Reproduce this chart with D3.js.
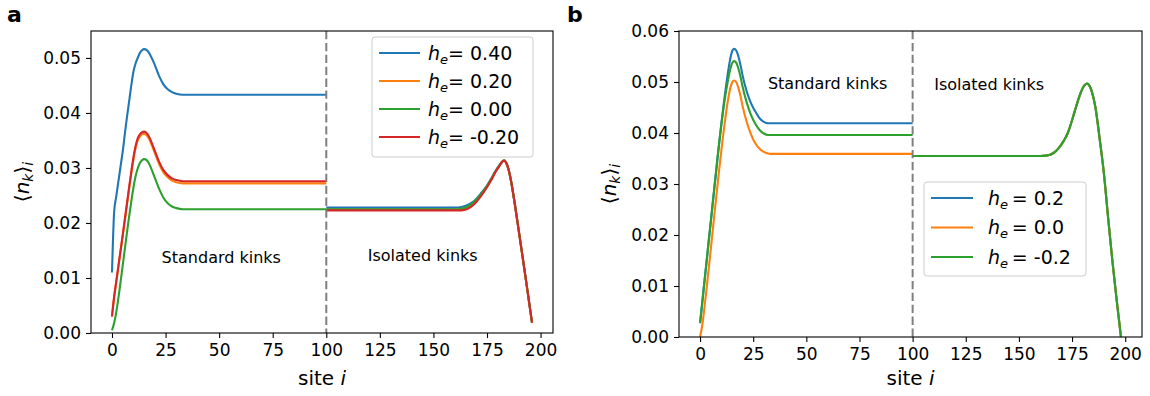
<!DOCTYPE html>
<html><head><meta charset="utf-8">
<script src="https://cdn.jsdelivr.net/npm/d3@7"></script>
<style>body{margin:0;background:#fff} text{font-family:"DejaVu Sans",sans-serif;fill:#000}</style>
</head><body><svg id="c" width="1150" height="396"></svg>
<script>
// ---------- tick labels / legend labels ----------
const xTicks = [0, 25, 50, 75, 100, 125, 150, 175, 200];
const yTicksA = [0, 0.01, 0.02, 0.03, 0.04, 0.05];
const yTicksB = [0, 0.01, 0.02, 0.03, 0.04, 0.05, 0.06];
const legendA = ["0.40", "0.20", "0.00", "-0.20"];
const legendB = ["0.2", "0.0", "-0.2"];
const colorsA = ["#1f77b4", "#ff7f0e", "#2ca02c", "#d62728"];
const colorsB = ["#1f77b4", "#ff7f0e", "#2ca02c"];

// ---------- panel a : sites ----------
const sitesA_std = [0,1,2,3,4,5,6,7,8,9,10,11,12,13,14,15,16,17,18,19,20,22,24,26,28,30,33,40,60,80,100];
const sitesA_iso = [100,120,140,160,163,166,169,172,175,177,179,181,182,183,184,185,186,188,190,192,194,196];

// panel a, standard kinks (sites 0..100)
const a_p040_std = [0.0110,0.0220,0.0249,0.0276,0.0303,0.0330,0.0362,0.0393,0.0421,0.0450,0.0475,0.0490,0.0500,0.0509,0.0514,0.0516,0.0515,0.0511,0.0504,0.0496,0.0487,0.0467,0.0452,0.0443,0.0438,0.0435,0.0433,0.0433,0.0433,0.0433,0.0433];
const a_p020_std = [0.0030,0.0065,0.0093,0.0121,0.0149,0.0177,0.0205,0.0234,0.0262,0.0290,0.0315,0.0336,0.0350,0.0357,0.0361,0.0362,0.0360,0.0355,0.0347,0.0337,0.0327,0.0307,0.0292,0.0283,0.0277,0.0274,0.0272,0.0272,0.0272,0.0272,0.0272];
const a_p000_std = [0.0005,0.0018,0.0038,0.0064,0.0093,0.0123,0.0153,0.0183,0.0212,0.0239,0.0264,0.0285,0.0299,0.0309,0.0314,0.0316,0.0315,0.0310,0.0302,0.0292,0.0282,0.0262,0.0246,0.0236,0.0230,0.0227,0.0225,0.0225,0.0225,0.0225,0.0225];
const a_m020_std = [0.0030,0.0066,0.0094,0.0122,0.0150,0.0178,0.0207,0.0236,0.0265,0.0293,0.0319,0.0340,0.0354,0.0361,0.0365,0.0366,0.0364,0.0359,0.0351,0.0341,0.0331,0.0311,0.0296,0.0287,0.0281,0.0278,0.0276,0.0276,0.0276,0.0276,0.0276];

// panel a, isolated kinks (sites 100..196)
const a_p040_iso = [0.0228,0.0228,0.0228,0.0228,0.0229,0.0233,0.0240,0.0253,0.0268,0.0281,0.0295,0.0306,0.0311,0.0314,0.0309,0.0298,0.0281,0.0234,0.0181,0.0128,0.0074,0.0019];
const a_p020_iso = [0.0224,0.0224,0.0224,0.0224,0.0225,0.0229,0.0237,0.0250,0.0266,0.0279,0.0293,0.0305,0.0311,0.0314,0.0309,0.0298,0.0281,0.0234,0.0181,0.0128,0.0074,0.0019];
const a_p000_iso = [0.0225,0.0225,0.0225,0.0225,0.0226,0.0230,0.0238,0.0251,0.0267,0.0280,0.0294,0.0306,0.0311,0.0314,0.0309,0.0298,0.0281,0.0234,0.0181,0.0128,0.0074,0.0019];
const a_m020_iso = [0.0223,0.0223,0.0223,0.0223,0.0223,0.0226,0.0234,0.0248,0.0265,0.0278,0.0293,0.0305,0.0311,0.0313,0.0309,0.0298,0.0281,0.0234,0.0181,0.0128,0.0074,0.0019];

// ---------- panel b : sites ----------
const sitesB_std = [0,1,2,3,4,5,6,7,8,9,10,11,12,13,14,15,16,17,18,19,20,22,24,26,28,30,32,34,40,60,80,100];
const sitesB_iso = [100,120,140,160,163,165,167,169,171,173,175,177,179,180,181,182,183,184,185,186,188,190,192,194,196,198];

const b_p02_std = [0.0027,0.0066,0.0106,0.0145,0.0185,0.0224,0.0264,0.0303,0.0342,0.0380,0.0417,0.0452,0.0485,0.0515,0.0541,0.0559,0.0565,0.0562,0.0551,0.0534,0.0513,0.0481,0.0458,0.0442,0.0429,0.0422,0.0419,0.0419,0.0419,0.0419,0.0419,0.0419];
const b_p00_std = [0.0000,0.0022,0.0055,0.0092,0.0131,0.0170,0.0210,0.0250,0.0289,0.0328,0.0365,0.0400,0.0432,0.0461,0.0484,0.0498,0.0503,0.0500,0.0489,0.0473,0.0453,0.0421,0.0397,0.0380,0.0369,0.0363,0.0360,0.0359,0.0359,0.0359,0.0359,0.0359];
const b_m02_std = [0.0027,0.0066,0.0106,0.0145,0.0185,0.0224,0.0264,0.0303,0.0343,0.0381,0.0416,0.0448,0.0476,0.0500,0.0521,0.0536,0.0541,0.0538,0.0527,0.0511,0.0491,0.0459,0.0435,0.0418,0.0406,0.0399,0.0396,0.0396,0.0396,0.0396,0.0396,0.0396];

const b_p02_iso = [0.0355,0.0355,0.0355,0.0355,0.0356,0.0358,0.0363,0.0372,0.0384,0.0400,0.0425,0.0453,0.0478,0.0488,0.0494,0.0497,0.0494,0.0485,0.0470,0.0450,0.0388,0.0320,0.0232,0.0148,0.0072,0.0000];
const b_p00_iso = [0.0355,0.0355,0.0355,0.0355,0.0356,0.0358,0.0363,0.0372,0.0384,0.0400,0.0425,0.0453,0.0478,0.0488,0.0494,0.0497,0.0494,0.0485,0.0470,0.0450,0.0388,0.0320,0.0232,0.0148,0.0072,0.0000];
const b_m02_iso = [0.0355,0.0355,0.0355,0.0355,0.0356,0.0358,0.0363,0.0372,0.0384,0.0400,0.0425,0.0453,0.0478,0.0488,0.0494,0.0497,0.0494,0.0485,0.0470,0.0450,0.0388,0.0320,0.0232,0.0148,0.0072,0.0000];

// ---------- drawing ----------
const svg = d3.select("#c");

function drawPanel(cfg) {
  const x = d3.scaleLinear().domain(cfg.xDomain).range([cfg.left, cfg.right]);
  const y = d3.scaleLinear().domain(cfg.yDomain).range([cfg.bottom, cfg.top]);
  const g = svg.append("g");

  const line = d3.line().x(d => x(d[0])).y(d => y(d[1])).curve(d3.curveMonotoneX);
  cfg.series.forEach((s, i) => {
    [[cfg.sitesStd, s.std], [cfg.sitesIso, s.iso]].forEach(([st, vs]) => {
      g.append("path").datum(d3.zip(st, vs))
        .attr("d", line).attr("fill", "none")
        .attr("stroke", cfg.colors[i]).attr("stroke-width", 2.1)
        .attr("stroke-linejoin", "round").attr("stroke-linecap", "butt");
    });
  });

  // dashed separator at site 100
  g.append("line").attr("x1", x(100)).attr("x2", x(100))
    .attr("y1", cfg.top).attr("y2", cfg.bottom)
    .attr("stroke", "#7f7f7f").attr("stroke-width", 2).attr("stroke-dasharray", "8.3,3.6");

  // axes
  const xa = g.append("g").attr("transform", `translate(0,${cfg.bottom})`)
    .call(d3.axisBottom(x).tickValues(xTicks).tickFormat(d3.format("d")).tickSize(5).tickSizeOuter(0).tickPadding(6));
  const ya = g.append("g").attr("transform", `translate(${cfg.left},0)`)
    .call(d3.axisLeft(y).tickValues(cfg.yTicks).tickFormat(d3.format(".2f")).tickSize(5).tickSizeOuter(0).tickPadding(5));
  [xa, ya].forEach(a => {
    a.select(".domain").remove();
    a.selectAll("text").attr("font-family", "DejaVu Sans").attr("font-size", 17).attr("fill", "#000");
    a.selectAll("line").attr("stroke", "#000").attr("stroke-width", 1.1);
  });
  g.append("rect").attr("x", cfg.left).attr("y", cfg.top)
    .attr("width", cfg.right - cfg.left).attr("height", cfg.bottom - cfg.top)
    .attr("fill", "none").attr("stroke", "#000").attr("stroke-width", 1.1);

  // annotations
  cfg.notes.forEach(n => {
    g.append("text").attr("x", x(n.site)).attr("y", y(n.val))
      .attr("text-anchor", "middle").attr("font-size", 16).text(n.text);
  });

  // axis labels
  const xl = g.append("text").attr("x", (cfg.left + cfg.right) / 2).attr("y", 385)
    .attr("text-anchor", "middle").attr("font-size", 20);
  xl.append("tspan").text("site ");
  xl.append("tspan").attr("font-style", "italic").text("i");

  const yl = g.append("text").attr("transform", `translate(${cfg.ylabX},${(cfg.top + cfg.bottom) / 2}) rotate(-90)`)
    .attr("text-anchor", "middle").attr("font-size", 20);
  yl.append("tspan").text("\u27E8");
  yl.append("tspan").attr("font-style", "italic").text("n");
  yl.append("tspan").attr("font-style", "italic").attr("font-size", 14).attr("dy", 4).text("k");
  yl.append("tspan").attr("dy", -4).text("\u27E9");
  yl.append("tspan").attr("font-style", "italic").attr("font-size", 14).attr("dy", 4).text("i");

  // panel letter
  svg.append("text").attr("x", cfg.letterX).attr("y", 22).attr("font-size", 22)
    .attr("font-weight", "bold").text(cfg.letter);

  // legend
  const L = cfg.legend;
  g.append("rect").attr("x", L.x).attr("y", L.y).attr("width", L.w).attr("height", L.h)
    .attr("rx", 3).attr("fill", "#fff").attr("fill-opacity", 0.8)
    .attr("stroke", "#cccccc").attr("stroke-width", 1);
  cfg.legendLabels.forEach((lab, i) => {
    const cy = L.row0 + i * L.step;
    g.append("line").attr("x1", L.lx1).attr("x2", L.lx2).attr("y1", cy).attr("y2", cy)
      .attr("stroke", cfg.colors[i]).attr("stroke-width", 2.1);
    const t = g.append("text").attr("x", L.tx).attr("y", cy + 6.5).attr("font-size", 19);
    t.append("tspan").attr("font-style", "italic").text("h");
    t.append("tspan").attr("font-style", "italic").attr("font-size", 13).attr("dy", 4).text("e");
    t.append("tspan").attr("dy", -4).text(L.spaced ? "\u2009= " + lab : "= " + lab);
  });
}

drawPanel({
  left: 91, right: 553, top: 31, bottom: 333,
  xDomain: [-9.8, 205.8], yDomain: [0, 0.0549], yTicks: yTicksA,
  sitesStd: sitesA_std, sitesIso: sitesA_iso, colors: colorsA,
  series: [
    {std: a_p040_std, iso: a_p040_iso},
    {std: a_p020_std, iso: a_p020_iso},
    {std: a_p000_std, iso: a_p000_iso},
    {std: a_m020_std, iso: a_m020_iso}
  ],
  notes: [{site: 51, val: 0.0127, text: "Standard kinks"}, {site: 145, val: 0.0130, text: "Isolated kinks"}],
  ylabX: 29, letter: "a", letterX: 7,
  legendLabels: legendA,
  legend: {x: 372, y: 37, w: 161, h: 120, row0: 53, step: 28, lx1: 379, lx2: 420, tx: 428, spaced: false}
});

drawPanel({
  left: 679, right: 1142, top: 31, bottom: 337,
  xDomain: [-9.9, 207.9], yDomain: [0, 0.06], yTicks: yTicksB,
  sitesStd: sitesB_std, sitesIso: sitesB_iso, colors: colorsB,
  series: [
    {std: b_p02_std, iso: b_p02_iso},
    {std: b_p00_std, iso: b_p00_iso},
    {std: b_m02_std, iso: b_m02_iso}
  ],
  notes: [{site: 60, val: 0.0486, text: "Standard kinks"}, {site: 136, val: 0.0484, text: "Isolated kinks"}],
  ylabX: 616, letter: "b", letterX: 567,
  legendLabels: legendB,
  legend: {x: 924, y: 182, w: 162, h: 94, row0: 198, step: 29.5, lx1: 931, lx2: 973, tx: 988, spaced: true}
});
</script></body></html>
